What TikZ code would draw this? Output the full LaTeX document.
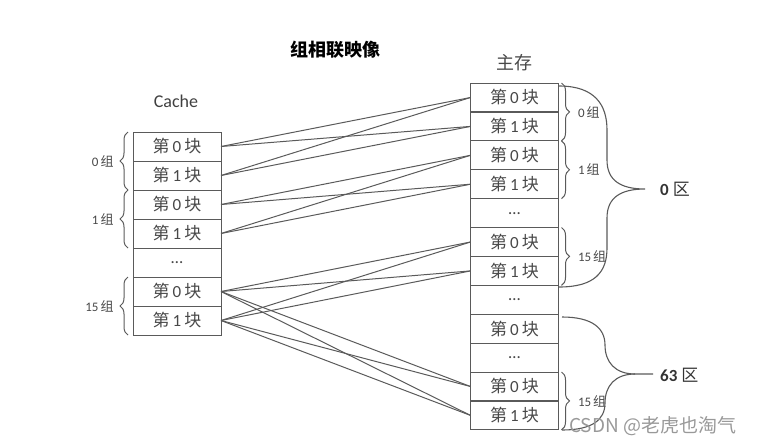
\documentclass[tikz,border=0pt]{standalone}
\usepackage{fontspec}
\setmainfont{Carlito}
\newfontfamily\cjk{Noto Sans CJK SC}
\usetikzlibrary{decorations.pathreplacing}
\definecolor{lg}{HTML}{5A5A5A}
\definecolor{tg}{HTML}{484848}
\newcommand\blk[1]{{\cjk 第}\hspace{3pt}#1\hspace{3pt}{\cjk 块}}
\newcommand\zu[1]{#1\hspace{2pt}{\cjk 组}}
\tikzset{
  cell/.style={draw=lg, line width=1pt, minimum width=88pt, minimum height=29pt, inner sep=0pt, outer sep=0pt, text=tg, font=\fontsize{17}{17}\selectfont},
  conn/.style={draw=lg, line width=1pt},
  br/.style={decorate, decoration={brace, amplitude=8pt}, draw=lg, line width=1pt},
  lab/.style={inner sep=0pt, text=tg, font=\fontsize{13}{13}\selectfont},
  big/.style={draw=lg, line width=1.1pt},
  qu/.style={inner sep=0pt, text=black!80, font=\fontsize{17}{17}\selectfont}
}
\begin{document}
\begin{tikzpicture}[x=1pt,y=-1pt]
\useasboundingbox (0,0) rectangle (757,445);
% titles
\node[inner sep=0pt, font=\cjk\bfseries\fontsize{18}{18}\selectfont] (title) at (335,50) {组相联映像};
\node[inner sep=0pt, text=tg, font=\cjk\fontsize{18}{18}\selectfont] (mm) at (514,63) {主存};
\node[inner sep=0pt, text=black!75, font=\fontsize{18}{18}\selectfont] (ca) at (176,101) {Cache};
% cache column
\node[cell] (c0) at (177,146.5) {\blk{0}};
\node[cell] (c1) at (177,175.5) {\blk{1}};
\node[cell] (c2) at (177,204.5) {\blk{0}};
\node[cell] (c3) at (177,233.5) {\blk{1}};
\node[cell] (c4) at (177,262.5) {\ldots};
\node[cell] (c5) at (177,291.5) {\blk{0}};
\node[cell] (c6) at (177,320.5) {\blk{1}};
% main memory column
\node[cell] (m0) at (514.5,97.5) {\blk{0}};
\node[cell] (m1) at (514.5,126.4) {\blk{1}};
\node[cell] (m2) at (514.5,155.3) {\blk{0}};
\node[cell] (m3) at (514.5,184.2) {\blk{1}};
\node[cell] (m4) at (514.5,213.1) {\ldots};
\node[cell] (m5) at (514.5,242.0) {\blk{0}};
\node[cell] (m6) at (514.5,270.9) {\blk{1}};
\node[cell] (m7) at (514.5,299.8) {\ldots};
\node[cell] (m8) at (514.5,328.7) {\blk{0}};
\node[cell] (m9) at (514.5,357.6) {\ldots};
\node[cell] (m10) at (514.5,386.5) {\blk{0}};
\node[cell] (m11) at (514.5,415.4) {\blk{1}};
% connectors
\foreach \a/\b in {c0/m0,c0/m1,c1/m0,c1/m1,c2/m2,c2/m3,c3/m2,c3/m3,c5/m5,c5/m6,c6/m5,c6/m6,c5/m10,c5/m11,c6/m10,c6/m11}
  \draw[conn] (\a.east) -- (\b.west);
% left braces
\draw[br] ([xshift=-5pt]c1.south west) -- ([xshift=-5pt]c0.north west) node[midway, left=14pt, lab] (l0) {\zu{0}};
\draw[br] ([xshift=-5pt]c3.south west) -- ([xshift=-5pt]c2.north west) node[midway, left=14pt, lab] (l1) {\zu{1}};
\draw[br] ([xshift=-5pt]c6.south west) -- ([xshift=-5pt]c5.north west) node[midway, left=14pt, lab] (l15) {\zu{15}};
% right braces
\draw[br] ([xshift=3pt]m0.north east) -- ([xshift=3pt]m1.south east) node[midway, right=16pt, lab] (r0) {\zu{0}};
\draw[br] ([xshift=3pt]m2.north east) -- ([xshift=3pt]m3.south east) node[midway, right=16pt, lab] (r1) {\zu{1}};
\draw[br] ([xshift=3pt]m5.north east) -- ([xshift=3pt]m6.south east) node[midway, right=16pt, lab] (r15) {\zu{15}};
\draw[br] ([xshift=3pt]m10.north east) -- ([xshift=3pt]m11.south east) node[midway, right=16pt, lab] (r15b) {\zu{15}};
% big curve 0 区
\draw[big] (559,86) .. controls (595,86) and (607,105) .. (607,130) -- (607,160)
  .. controls (607,180) and (620,189) .. (645,189)
  .. controls (620,189) and (607,198) .. (607,218) -- (607,248)
  .. controls (607,272) and (595,287) .. (559,287);
\node[qu, anchor=west] (q0) at (660,189) {\textbf{0}\hspace{4pt}{\cjk 区}};
% big curve 63 区
\draw[big] (562,317) .. controls (592,317) and (605,328) .. (605,345)
  .. controls (605,362) and (615,374) .. (635,374) -- (653,374);
\draw[big] (635,374) .. controls (615,374) and (605,386) .. (605,403)
  .. controls (605,420) and (592,430) .. (562,430);
\node[qu, anchor=west] (q63) at (660,375) {\textbf{63}\hspace{4pt}{\cjk 区}};
% watermark
\node[inner sep=0pt, anchor=west, text=black!40, font=\cjk\fontsize{19}{19}\selectfont] (wm) at (569,426) {CSDN @老虎也淘气};
\end{tikzpicture}
\end{document}
